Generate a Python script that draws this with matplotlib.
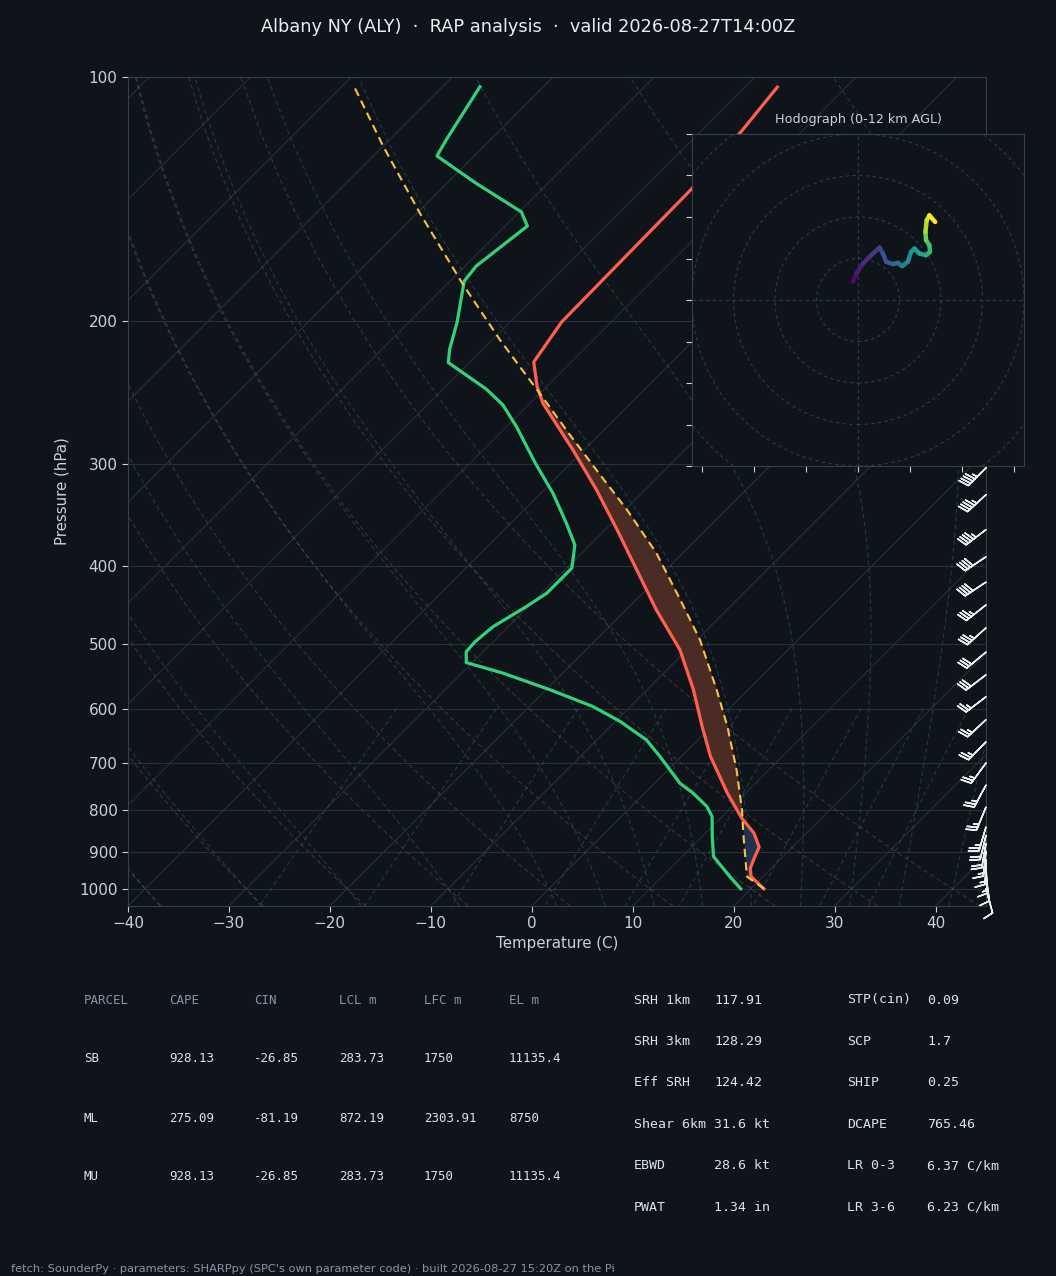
import numpy as np
import matplotlib
matplotlib.use("Agg")
import matplotlib.pyplot as plt
from matplotlib.collections import LineCollection
from matplotlib.patches import Circle
from matplotlib.ticker import FixedLocator, NullLocator, FixedFormatter

# ---- sounding (hPa, degC) ----
t_pres = [102.9, 116.2, 137.5, 177.5, 200.3, 224.4, 240.2, 252.3, 288.0, 322.6,
          361.3, 404.7, 453.3, 507.7, 568.7, 631.1, 687.2, 762.4, 818.4, 854.0,
          888.6, 912.5, 943.0, 965.8, 1000.0]
t_temp = [-56.8, -56.0, -55.2, -55.0, -54.9, -53.7, -51.0, -48.7, -41.1, -34.8,
          -28.8, -22.9, -17.0, -10.7, -5.4, -0.9, 2.9, 8.2, 12.1, 14.8,
          16.7, 17.2, 17.9, 18.8, 21.3]

td_pres = [102.8, 119.3, 125.1, 135.2, 146.6, 152.6, 170.9, 178.4, 200.7, 216.4,
           224.8, 242.4, 253.5, 269.6, 299.1, 325.6, 354.5, 377.1, 402.7, 432.3,
           449.1, 475.3, 496.0, 510.2, 526.4, 542.5, 568.7, 596.3, 622.3, 655.5,
           687.2, 741.1, 762.4, 791.9, 814.7, 862.3, 912.5, 965.8, 1000.0]
td_temp = [-86.3, -84.4, -83.7, -77.1, -69.8, -67.8, -68.9, -68.6, -65.2, -63.3,
           -62.1, -55.7, -52.5, -49.0, -43.5, -38.8, -34.5, -31.5, -29.5, -29.5,
           -30.2, -31.5, -31.8, -31.7, -30.6, -25.9, -19.6, -13.7, -9.5, -5.1,
           -2.1, 2.5, 4.8, 7.5, 9.0, 11.0, 13.1, 16.7, 19.0]

prcl_pres = [103.3, 121.9, 147.2, 180.4, 210.9, 245.3, 277.3, 304.8, 341.4,
             386.0, 440.7, 493.6, 568.7, 631.1, 713.6, 799.4, 862.3, 921.1, 965.8,
             1000.0]
prcl_temp = [-98.5, -89.9, -79.7, -68.3, -59.2, -50.0, -42.6, -36.8, -29.8,
             -22.6, -15.6, -9.7, -3.1, 1.6, 6.8, 11.3, 14.1, 16.6, 18.4,
             21.3]
lfc_pres = 818.0

# winds (kt) for the barbs
wind_pres = [1000, 965, 943, 920, 899, 879, 859, 839, 793, 745, 700, 659, 619,
             580, 545, 511, 477, 447, 419, 390, 361, 327, 303, 280, 255, 230, 205]
wind_u = [-2.4, -1.5, -0.8, 0.5, 1.8, 3.2, 4.8, 6.4, 10.4, 12.0, 13.6, 16.8, 19.2,
          21.3, 23.0, 24.6, 26.4, 29.0, 32.8, 34.7, 34.4, 32.7, 32.5, 32.8, 33.1, 34.4, 37.2]
wind_v = [8.8, 11.0, 12.8, 14.7, 16.6, 18.4, 20.0, 21.6, 25.3, 22.4, 18.4, 17.3, 17.9,
          16.3, 17.6, 20.5, 24.0, 23.0, 21.6, 23.2, 26.4, 30.0, 32.5, 35.0, 38.4, 40.8, 37.6]

# hodograph trace (kt) with height AGL (km)
hodo_hgt = [0.0, 0.5, 1.0, 1.5, 2.0, 2.5, 3.0, 3.5, 4.0, 4.5, 5.3, 5.8, 6.2, 6.6,
            7.0, 7.5, 8.0, 8.4, 9.3, 10.5, 11.2, 12.0]
hodo_u = [-2.4, -0.8, 2.4, 6.4, 10.4, 12.0, 13.6, 16.8, 19.2, 21.3, 24.0, 25.6, 27.2,
          29.6, 32.8, 34.7, 34.4, 32.8, 32.5, 33.1, 34.4, 37.2]
hodo_v = [8.8, 12.8, 17.6, 21.6, 25.3, 22.4, 18.4, 17.3, 17.9, 16.3, 18.4, 23.2, 24.8,
          22.4, 21.6, 23.2, 26.4, 28.8, 32.8, 38.4, 40.8, 37.6]

# parameter tables
tbl_head = ['PARCEL', 'CAPE', 'CIN', 'LCL m', 'LFC m', 'EL m']
parcels = ['SB', 'ML', 'MU']
cape = [928.13, 275.09, 928.13]
cin = [-26.85, -81.19, -26.85]
lcl = [283.73, 872.19, 283.73]
lfc = [1750, 2303.91, 1750]
el = [11135.4, 8750, 11135.4]

kin_names = ['SRH 1km', 'SRH 3km', 'Eff SRH', 'Shear 6km', 'EBWD', 'PWAT']
kin_vals = [117.91, 128.29, 124.42, 31.6, 28.6, 1.34]
kin_units = ['', '', '', ' kt', ' kt', ' in']
thermo_names = ['STP(cin)', 'SCP', 'SHIP', 'DCAPE', 'LR 0-3', 'LR 3-6']
thermo_vals = [0.09, 1.7, 0.25, 765.46, 6.37, 6.23]
thermo_units = ['', '', '', '', ' C/km', ' C/km']

BG = '#0f141b'
GRID = '#262f3b'
SPINE = '#36404d'
TXT = '#c9d1d9'
HEAD = '#8796a8'

W, H = 1056, 1276
XMIN, XMAX = -40, 45
PBOT, PTOP = 1050, 100

fig = plt.figure(figsize=(W / 100, H / 100), dpi=100, facecolor=BG)


def px_rect(x0, y0, x1, y1):
    return [x0 / W, 1 - y1 / H, (x1 - x0) / W, (y1 - y0) / H]


rect = px_rect(128, 77, 986, 906)
ax = fig.add_axes(rect, facecolor=BG)
ax.set_yscale('log')
ax.set_ylim(PBOT, PTOP)
ax.set_xlim(XMIN, XMAX)

# 45 degree skew: degC shift per decade of pressure
K = (XMAX - XMIN) / (rect[2] * W) * (rect[3] * H) / np.log10(PBOT / PTOP)


def skew(t, p):
    return np.asarray(t, float) + K * np.log10(PBOT / np.asarray(p, float))


# background: isobars, isotherms
plev = np.arange(100, 1001, 100)
for p in plev:
    ax.axhline(p, color=GRID, lw=0.8, zorder=1)
for t in np.arange(-150, 50, 10):
    ax.plot(skew([t, t], [PBOT, PTOP]), [PBOT, PTOP], color=GRID, lw=0.8, zorder=1)

# dry adiabats
pl = np.linspace(PBOT, PTOP, 60)
dry = []
for t0 in np.arange(XMIN, XMAX + 1, 10):
    tt = (t0 + 273.15) * (pl / 1000.0) ** 0.2857 - 273.15
    dry.append(np.column_stack([skew(tt, pl), pl]))
ax.add_collection(LineCollection(dry, colors='#7a5c34', alpha=0.45, lw=0.8,
                                 linestyles=(0, (4, 3)), zorder=1))


# moist adiabats
def dtdp(p, t):
    es = 6.112 * np.exp(17.67 * (t - 273.15) / (t - 29.65))
    rs = 0.622 * es / (p - es)
    return (287.04 * t + 2.501e6 * rs) / p / (1005.7 + 2.501e6 ** 2 * rs * 0.622 / (287.04 * t * t))


def rk4(t0, levels):
    out = [t0]
    t = t0
    for p1, p2 in zip(levels[:-1], levels[1:]):
        h = p2 - p1
        k1 = dtdp(p1, t)
        k2 = dtdp(p1 + h / 2, t + h * k1 / 2)
        k3 = dtdp(p1 + h / 2, t + h * k2 / 2)
        k4 = dtdp(p2, t + h * k3)
        t = t + h * (k1 + 2 * k2 + 2 * k3 + k4) / 6
        out.append(t)
    return np.array(out)


up = np.linspace(1000, PTOP, 181)
down = np.linspace(1000, PBOT, 11)
moist = []
for t0 in np.concatenate((np.arange(XMIN, 0, 10), np.arange(0, XMAX + 1, 5))):
    tu = rk4(t0 + 273.15, up) - 273.15
    td_ = rk4(t0 + 273.15, down) - 273.15
    pp = np.concatenate([down[::-1], up[1:]])
    tt = np.concatenate([td_[::-1], tu[1:]])
    moist.append(np.column_stack([skew(tt, pp), pp]))
ax.add_collection(LineCollection(moist, colors='#3a6878', alpha=0.45, lw=0.8,
                                 linestyles=(0, (4, 3)), zorder=1))

# mixing ratio lines
pm = np.linspace(600, PBOT, 50)
mix = []
for w in [0.0004, 0.001, 0.002, 0.004, 0.007, 0.01, 0.016, 0.024, 0.032]:
    e = pm * w / (0.622 + w)
    le = np.log(e / 6.112)
    tdw = 243.5 * le / (17.67 - le)
    mix.append(np.column_stack([skew(tdw, pm), pm]))
ax.add_collection(LineCollection(mix, colors='#3a6878', alpha=0.45, lw=0.8,
                                 linestyles=(0, (4, 3)), zorder=1))

# CAPE / CIN shading
pf = np.geomspace(min(prcl_pres), 1000, 400)
lp = np.log(pf)
tp_f = np.interp(lp, np.log(prcl_pres), prcl_temp)
te_f = np.interp(lp, np.log(t_pres), t_temp)
ax.fill_betweenx(pf, skew(te_f, pf), skew(tp_f, pf), where=tp_f > te_f,
                 interpolate=True, color='#4a2c24', lw=0, zorder=2)
ax.fill_betweenx(pf, skew(te_f, pf), skew(tp_f, pf), where=(te_f > tp_f) & (pf > lfc_pres),
                 interpolate=True, color='#1c3352', lw=0, zorder=2)

# profiles
ax.plot(skew(t_temp, t_pres), t_pres, color='#ff5f4f', lw=2.3, zorder=4)
ax.plot(skew(td_temp, td_pres), td_pres, color='#33d17a', lw=2.3, zorder=4)
ax.plot(skew(prcl_temp, prcl_pres), prcl_pres, color='#f6c344', lw=1.5,
        ls=(0, (4, 2.5)), zorder=5)

# wind barbs on the right edge
ax.barbs(np.ones(len(wind_pres)), wind_pres, wind_u, wind_v,
         transform=ax.get_yaxis_transform(), clip_on=False, length=6.0,
         color='#e6edf3', lw=1.1, zorder=6)

ax.yaxis.set_major_locator(FixedLocator(plev))
ax.yaxis.set_major_formatter(FixedFormatter([str(p) for p in plev]))
ax.yaxis.set_minor_locator(NullLocator())
ax.set_xticks(np.arange(-40, 41, 10))
ax.tick_params(colors=TXT, labelsize=11, length=4)
for s in ax.spines.values():
    s.set_color(SPINE)
ax.set_xlabel('Temperature (C)', color=TXT, fontsize=10.8, labelpad=3)
ax.set_ylabel('Pressure (hPa)', color=TXT, fontsize=10.8, labelpad=7)

# hodograph inset
hax = fig.add_axes(px_rect(692, 134, 1024, 466), facecolor=BG)
hax.set_xlim(-80, 80)
hax.set_ylim(-80, 80)
for r in range(20, 141, 20):
    hax.add_patch(Circle((0, 0), r, fill=False, ls=(0, (3, 3)), ec='#2f3a48', lw=0.8))
hax.axhline(0, color='#2f3a48', ls=(0, (3, 3)), lw=0.8)
hax.axvline(0, color='#2f3a48', ls=(0, (3, 3)), lw=0.8)
pts = np.column_stack([hodo_u, hodo_v])
segs = np.stack([pts[:-1], pts[1:]], axis=1)
lc = LineCollection(segs, cmap='viridis', norm=plt.Normalize(0, 12), lw=3.2,
                    capstyle='round', zorder=3)
lc.set_array(np.array(hodo_hgt[1:]))
hax.add_collection(lc)
hax.set_xticks(np.arange(-75, 76, 25))
hax.set_yticks(np.arange(-80, 81, 20))
hax.tick_params(labelbottom=False, labelleft=False, colors=TXT, length=4)
for s in hax.spines.values():
    s.set_color(SPINE)
hax.set_title('Hodograph (0-12 km AGL)', color=TXT, fontsize=9.2, pad=8)

fig.text(0.5, 1 - 27 / H,
         'Albany NY (ALY)  \u00b7  RAP analysis  \u00b7  valid 2026-08-27T14:00Z',
         ha='center', va='center', color='#e6edf3', fontsize=12.8)


def ftext(x, y, s, **kw):
    fig.text(x / W, 1 - y / H, s, ha='left', va='center', family='DejaVu Sans Mono', **kw)


# parcel table
col_x = [84, 169, 254, 339, 424, 509]
row_y = [1000, 1059, 1118, 1176]
for x, h in zip(col_x, tbl_head):
    ftext(x, row_y[0], h, color=HEAD, fontsize=9)
for i, name in enumerate(parcels):
    row = [name] + [f'{v:g}' for v in (cape[i], cin[i], lcl[i], lfc[i], el[i])]
    for x, s in zip(col_x, row):
        ftext(x, row_y[i + 1], s, color='#dde3ea', fontsize=9)

# kinematic / composite parameters
for i in range(len(kin_names)):
    y = 1000 + i * 41.45
    ftext(634, y, kin_names[i], color='#dde3ea', fontsize=9.5)
    ftext(714, y, f'{kin_vals[i]:g}{kin_units[i]}', color='#dde3ea', fontsize=9.5)
    ftext(847, y, thermo_names[i], color='#dde3ea', fontsize=9.5)
    ftext(927, y, f'{thermo_vals[i]:g}{thermo_units[i]}', color='#dde3ea', fontsize=9.5)

fig.text(11 / W, 1 - 1269 / H,
         "fetch: SounderPy \u00b7 parameters: SHARPpy (SPC's own parameter code) \u00b7 built 2026-08-27 15:20Z on the Pi",
         ha='left', va='center', color=HEAD, fontsize=8.2)

fig.savefig('out.png', dpi=100, facecolor=BG)
